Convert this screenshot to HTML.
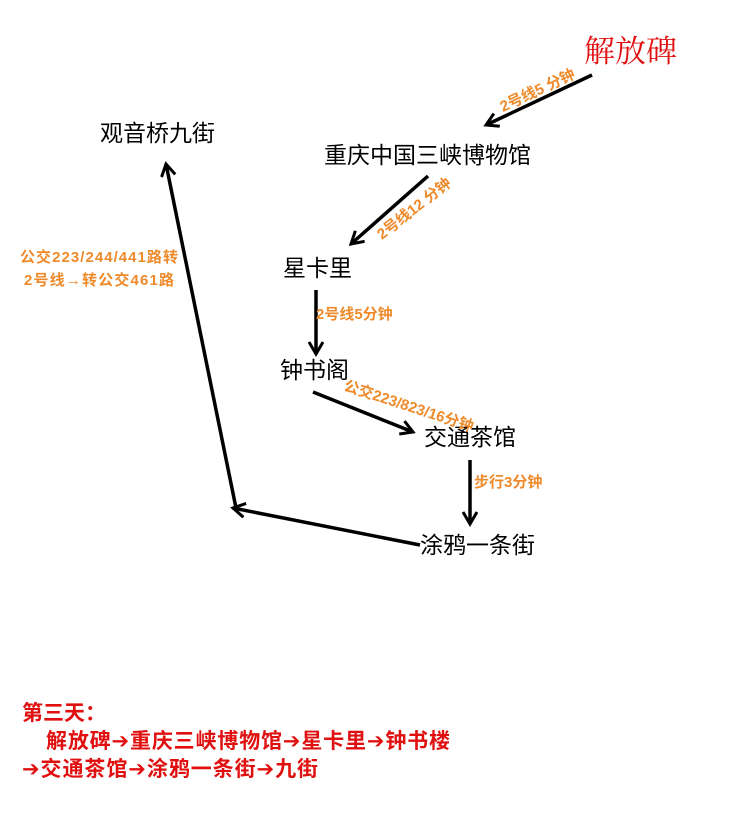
<!DOCTYPE html>
<html><head><meta charset="utf-8"><style>
body{margin:0;background:#fff}
svg{display:block}
.n{font-family:"Liberation Sans","Noto Sans CJK SC",sans-serif;font-size:23px;fill:#000}
.l{font-family:"Liberation Sans","Noto Sans CJK SC",sans-serif;font-size:15px;font-weight:bold;fill:#ee8a2a}
.r{font-family:"Liberation Sans","Noto Sans CJK SC","DejaVu Sans",sans-serif;font-size:21px;font-weight:bold;fill:#e01010}
</style></head><body>
<svg width="753" height="823" viewBox="0 0 753 823">
<defs>
<marker id="b" markerWidth="20" markerHeight="20" refX="14" refY="8" orient="auto" markerUnits="userSpaceOnUse"><path d="M2,1 L14,8 L2,15" fill="none" stroke="#000" stroke-width="3"/></marker></defs>
<g stroke="#000" stroke-width="3.5" fill="none" marker-end="url(#b)">
<line x1="592" y1="75" x2="486" y2="125"/>
<line x1="428" y1="176" x2="351" y2="244"/>
<line x1="316" y1="290" x2="316" y2="354"/>
<line x1="313" y1="392" x2="413" y2="432"/>
<line x1="470" y1="460" x2="470" y2="524"/>
<line x1="420" y1="545" x2="233" y2="508"/>
<line x1="236" y1="508" x2="166" y2="164"/>
</g>
<text x="584" y="62" style="font-family:'Liberation Serif','Noto Serif CJK SC',serif;font-size:31px;fill:#e01010">解放碑</text>
<text class="n" x="324" y="163">重庆中国三峡博物馆</text>
<text class="n" x="283" y="276">星卡里</text>
<text class="n" x="280" y="378">钟书阁</text>
<text class="n" x="424" y="445">交通茶馆</text>
<text class="n" x="420" y="553">涂鸦一条街</text>
<text class="n" x="100" y="141">观音桥九街</text>
<text class="l" transform="translate(503,112) rotate(-25)">2号线5 分钟</text>
<text class="l" transform="translate(382,240) rotate(-38)">2号线12 分钟</text>
<text class="l" x="316" y="319">2号线5分钟</text>
<text class="l" transform="translate(343,390) rotate(18)">公交223/823/16分钟</text>
<text class="l" x="474" y="487">步行3分钟</text>
<text class="l" x="99" y="262" text-anchor="middle" textLength="158">公交223/244/441路转</text>
<text class="l" x="99" y="285" text-anchor="middle" textLength="150">2号线→转公交461路</text>
<text class="r" x="22" y="720">第三天：</text>
<text class="r" x="46" y="748" textLength="404">解放碑➔重庆三峡博物馆➔星卡里➔钟书楼</text>
<text class="r" x="22" y="776" textLength="296">➔交通茶馆➔涂鸦一条街➔九街</text>
</svg>
</body></html>
